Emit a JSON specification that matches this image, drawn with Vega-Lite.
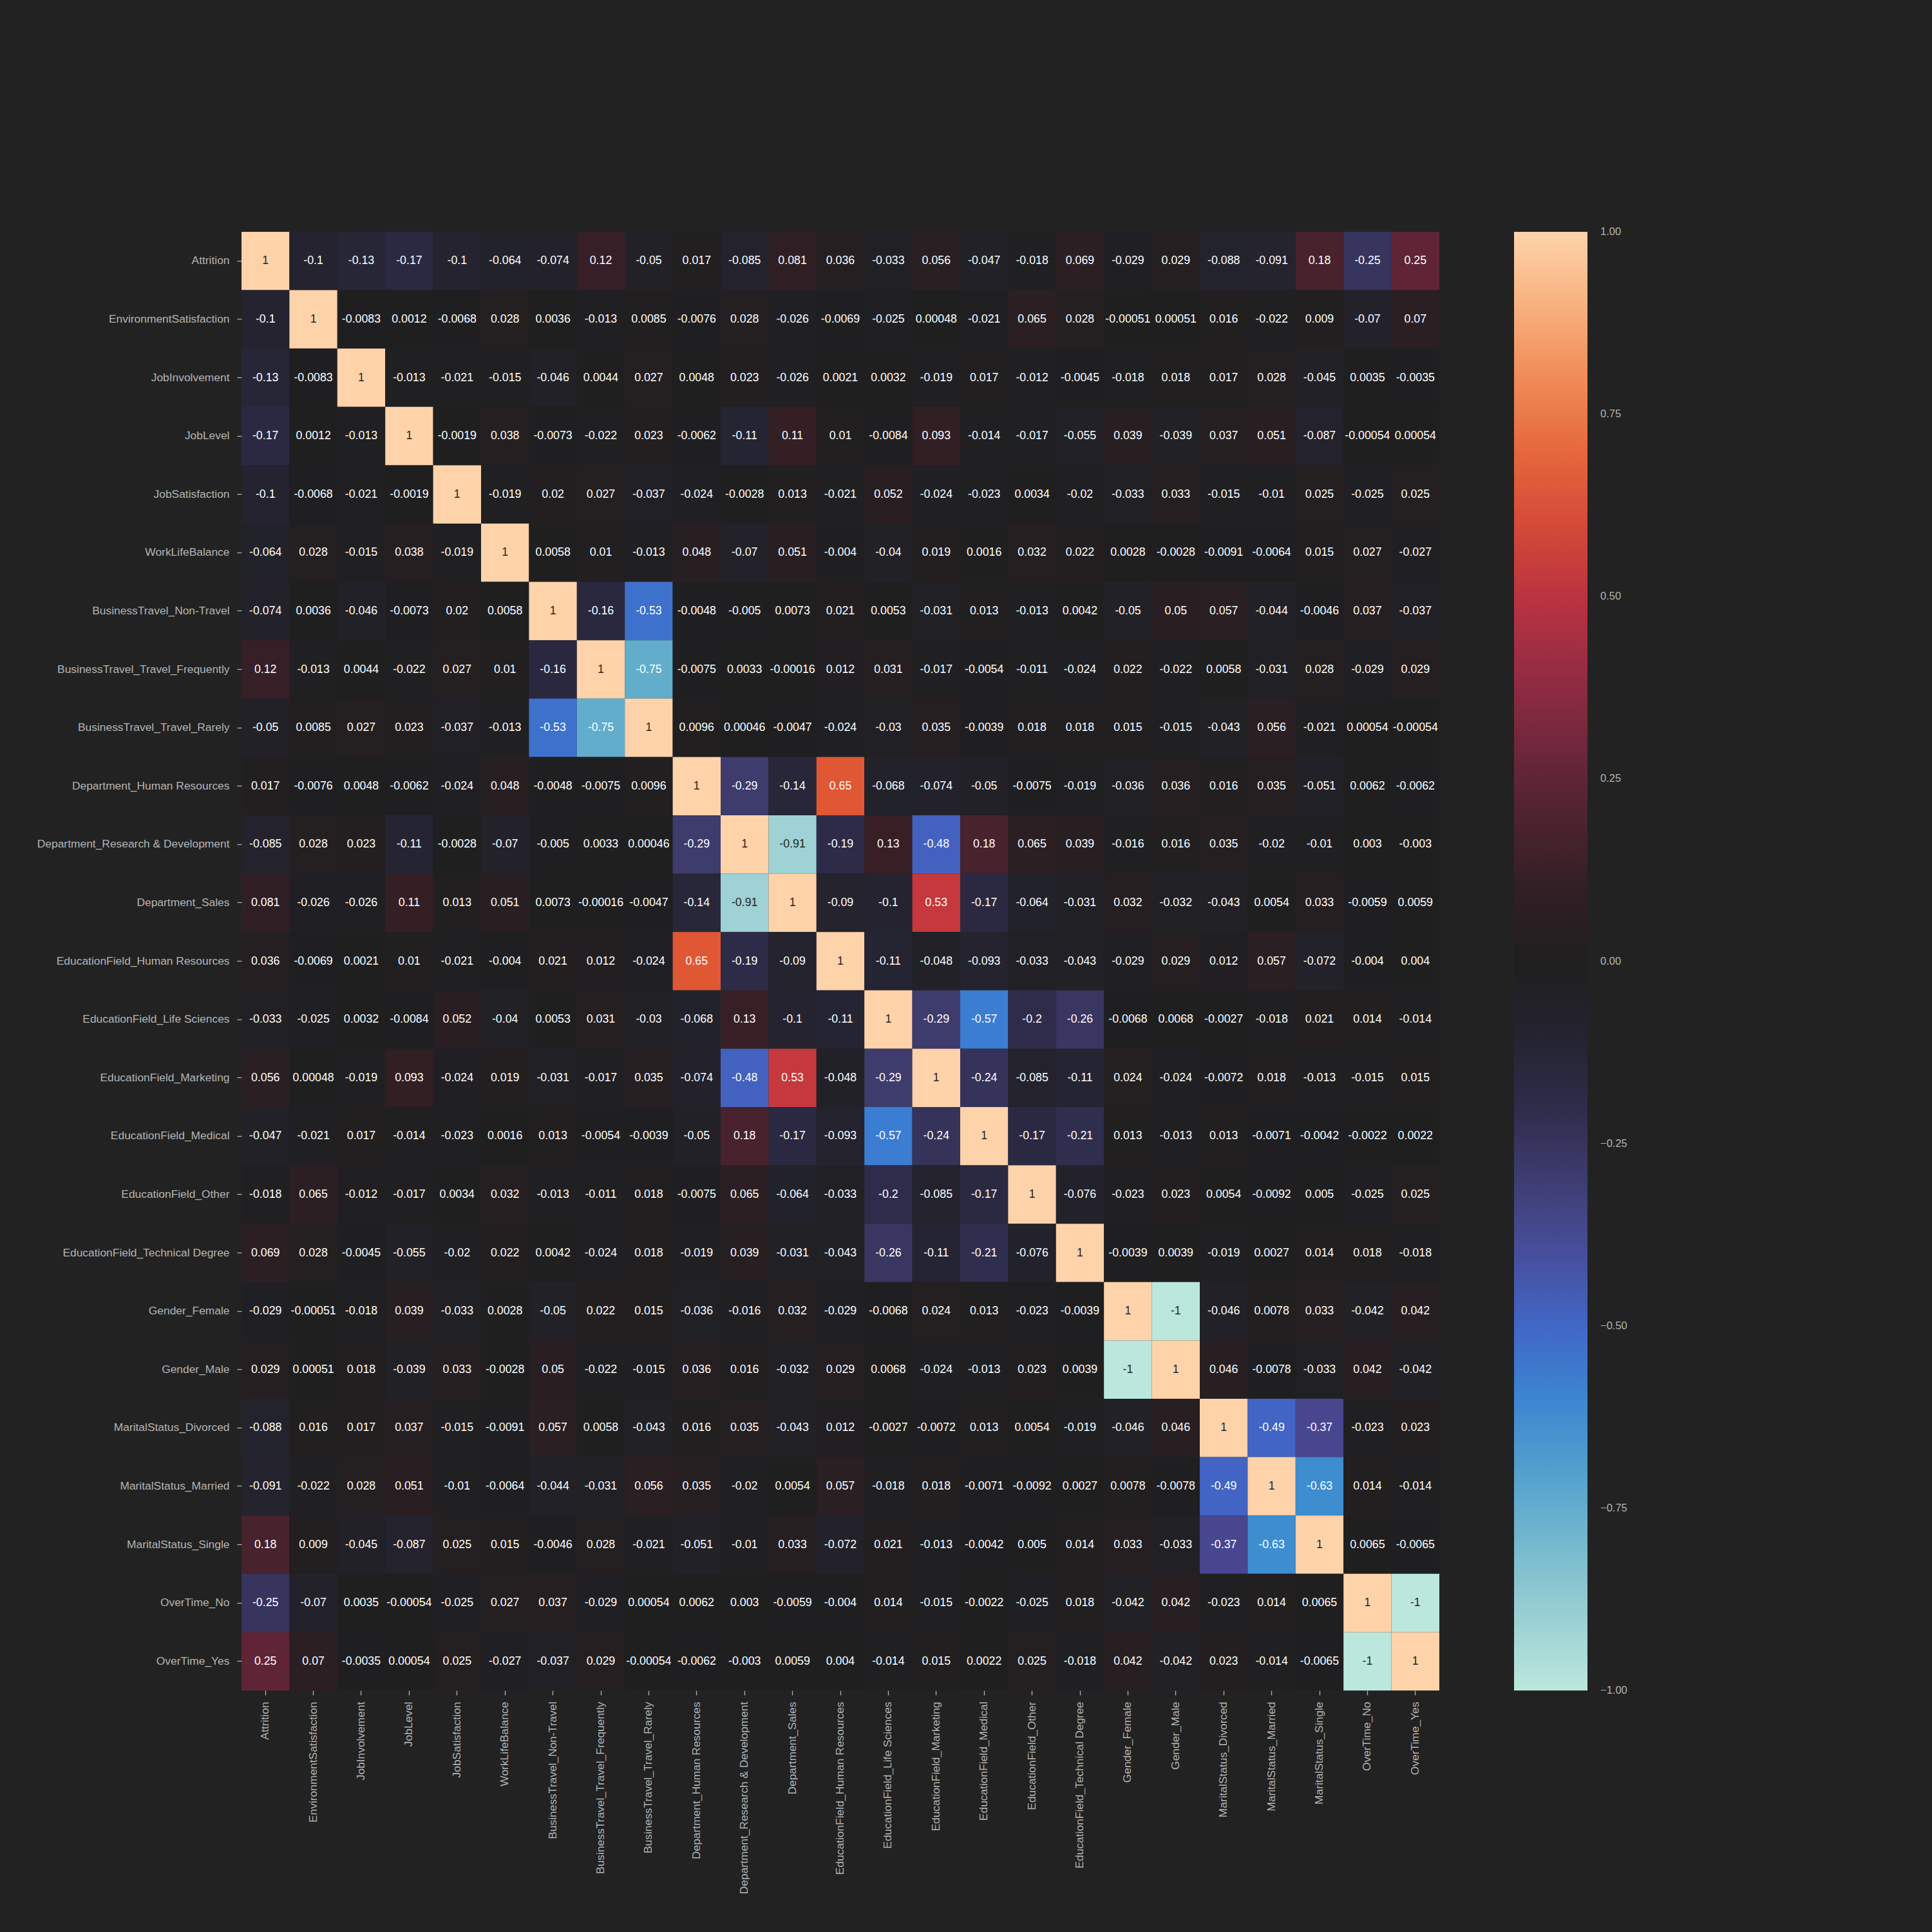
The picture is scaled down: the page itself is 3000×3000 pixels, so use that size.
{
"$schema": "https://vega.github.io/schema/vega-lite/v6.json",
"width": 1860, "height": 2265,
"autosize": {"type": "none"},
"padding": {"left": 375, "top": 360, "right": 765, "bottom": 375},
"background": "#222222",
"config": {"view": {"stroke": null}, "font": "Liberation Sans"},
"datasets": {"names": [
{"i":0,"name":"Attrition"},{"i":1,"name":"EnvironmentSatisfaction"},{"i":2,"name":"JobInvolvement"},{"i":3,"name":"JobLevel"},{"i":4,"name":"JobSatisfaction"},{"i":5,"name":"WorkLifeBalance"},{"i":6,"name":"BusinessTravel_Non-Travel"},{"i":7,"name":"BusinessTravel_Travel_Frequently"},{"i":8,"name":"BusinessTravel_Travel_Rarely"},{"i":9,"name":"Department_Human Resources"},{"i":10,"name":"Department_Research & Development"},{"i":11,"name":"Department_Sales"},{"i":12,"name":"EducationField_Human Resources"},{"i":13,"name":"EducationField_Life Sciences"},{"i":14,"name":"EducationField_Marketing"},{"i":15,"name":"EducationField_Medical"},{"i":16,"name":"EducationField_Other"},{"i":17,"name":"EducationField_Technical Degree"},{"i":18,"name":"Gender_Female"},{"i":19,"name":"Gender_Male"},{"i":20,"name":"MaritalStatus_Divorced"},{"i":21,"name":"MaritalStatus_Married"},{"i":22,"name":"MaritalStatus_Single"},{"i":23,"name":"OverTime_No"},{"i":24,"name":"OverTime_Yes"}
]},
"data": {"values": [
{"r":0,"c":0,"v":1},{"r":0,"c":1,"v":-0.1},{"r":0,"c":2,"v":-0.13},{"r":0,"c":3,"v":-0.17},{"r":0,"c":4,"v":-0.1},{"r":0,"c":5,"v":-0.064},{"r":0,"c":6,"v":-0.074},{"r":0,"c":7,"v":0.12},{"r":0,"c":8,"v":-0.05},{"r":0,"c":9,"v":0.017},{"r":0,"c":10,"v":-0.085},{"r":0,"c":11,"v":0.081},{"r":0,"c":12,"v":0.036},{"r":0,"c":13,"v":-0.033},{"r":0,"c":14,"v":0.056},{"r":0,"c":15,"v":-0.047},{"r":0,"c":16,"v":-0.018},{"r":0,"c":17,"v":0.069},{"r":0,"c":18,"v":-0.029},{"r":0,"c":19,"v":0.029},{"r":0,"c":20,"v":-0.088},{"r":0,"c":21,"v":-0.091},{"r":0,"c":22,"v":0.18},{"r":0,"c":23,"v":-0.25},{"r":0,"c":24,"v":0.25},
{"r":1,"c":0,"v":-0.1},{"r":1,"c":1,"v":1},{"r":1,"c":2,"v":-0.0083},{"r":1,"c":3,"v":0.0012},{"r":1,"c":4,"v":-0.0068},{"r":1,"c":5,"v":0.028},{"r":1,"c":6,"v":0.0036},{"r":1,"c":7,"v":-0.013},{"r":1,"c":8,"v":0.0085},{"r":1,"c":9,"v":-0.0076},{"r":1,"c":10,"v":0.028},{"r":1,"c":11,"v":-0.026},{"r":1,"c":12,"v":-0.0069},{"r":1,"c":13,"v":-0.025},{"r":1,"c":14,"v":0.00048},{"r":1,"c":15,"v":-0.021},{"r":1,"c":16,"v":0.065},{"r":1,"c":17,"v":0.028},{"r":1,"c":18,"v":-0.00051},{"r":1,"c":19,"v":0.00051},{"r":1,"c":20,"v":0.016},{"r":1,"c":21,"v":-0.022},{"r":1,"c":22,"v":0.009},{"r":1,"c":23,"v":-0.07},{"r":1,"c":24,"v":0.07},
{"r":2,"c":0,"v":-0.13},{"r":2,"c":1,"v":-0.0083},{"r":2,"c":2,"v":1},{"r":2,"c":3,"v":-0.013},{"r":2,"c":4,"v":-0.021},{"r":2,"c":5,"v":-0.015},{"r":2,"c":6,"v":-0.046},{"r":2,"c":7,"v":0.0044},{"r":2,"c":8,"v":0.027},{"r":2,"c":9,"v":0.0048},{"r":2,"c":10,"v":0.023},{"r":2,"c":11,"v":-0.026},{"r":2,"c":12,"v":0.0021},{"r":2,"c":13,"v":0.0032},{"r":2,"c":14,"v":-0.019},{"r":2,"c":15,"v":0.017},{"r":2,"c":16,"v":-0.012},{"r":2,"c":17,"v":-0.0045},{"r":2,"c":18,"v":-0.018},{"r":2,"c":19,"v":0.018},{"r":2,"c":20,"v":0.017},{"r":2,"c":21,"v":0.028},{"r":2,"c":22,"v":-0.045},{"r":2,"c":23,"v":0.0035},{"r":2,"c":24,"v":-0.0035},
{"r":3,"c":0,"v":-0.17},{"r":3,"c":1,"v":0.0012},{"r":3,"c":2,"v":-0.013},{"r":3,"c":3,"v":1},{"r":3,"c":4,"v":-0.0019},{"r":3,"c":5,"v":0.038},{"r":3,"c":6,"v":-0.0073},{"r":3,"c":7,"v":-0.022},{"r":3,"c":8,"v":0.023},{"r":3,"c":9,"v":-0.0062},{"r":3,"c":10,"v":-0.11},{"r":3,"c":11,"v":0.11},{"r":3,"c":12,"v":0.01},{"r":3,"c":13,"v":-0.0084},{"r":3,"c":14,"v":0.093},{"r":3,"c":15,"v":-0.014},{"r":3,"c":16,"v":-0.017},{"r":3,"c":17,"v":-0.055},{"r":3,"c":18,"v":0.039},{"r":3,"c":19,"v":-0.039},{"r":3,"c":20,"v":0.037},{"r":3,"c":21,"v":0.051},{"r":3,"c":22,"v":-0.087},{"r":3,"c":23,"v":-0.00054},{"r":3,"c":24,"v":0.00054},
{"r":4,"c":0,"v":-0.1},{"r":4,"c":1,"v":-0.0068},{"r":4,"c":2,"v":-0.021},{"r":4,"c":3,"v":-0.0019},{"r":4,"c":4,"v":1},{"r":4,"c":5,"v":-0.019},{"r":4,"c":6,"v":0.02},{"r":4,"c":7,"v":0.027},{"r":4,"c":8,"v":-0.037},{"r":4,"c":9,"v":-0.024},{"r":4,"c":10,"v":-0.0028},{"r":4,"c":11,"v":0.013},{"r":4,"c":12,"v":-0.021},{"r":4,"c":13,"v":0.052},{"r":4,"c":14,"v":-0.024},{"r":4,"c":15,"v":-0.023},{"r":4,"c":16,"v":0.0034},{"r":4,"c":17,"v":-0.02},{"r":4,"c":18,"v":-0.033},{"r":4,"c":19,"v":0.033},{"r":4,"c":20,"v":-0.015},{"r":4,"c":21,"v":-0.01},{"r":4,"c":22,"v":0.025},{"r":4,"c":23,"v":-0.025},{"r":4,"c":24,"v":0.025},
{"r":5,"c":0,"v":-0.064},{"r":5,"c":1,"v":0.028},{"r":5,"c":2,"v":-0.015},{"r":5,"c":3,"v":0.038},{"r":5,"c":4,"v":-0.019},{"r":5,"c":5,"v":1},{"r":5,"c":6,"v":0.0058},{"r":5,"c":7,"v":0.01},{"r":5,"c":8,"v":-0.013},{"r":5,"c":9,"v":0.048},{"r":5,"c":10,"v":-0.07},{"r":5,"c":11,"v":0.051},{"r":5,"c":12,"v":-0.004},{"r":5,"c":13,"v":-0.04},{"r":5,"c":14,"v":0.019},{"r":5,"c":15,"v":0.0016},{"r":5,"c":16,"v":0.032},{"r":5,"c":17,"v":0.022},{"r":5,"c":18,"v":0.0028},{"r":5,"c":19,"v":-0.0028},{"r":5,"c":20,"v":-0.0091},{"r":5,"c":21,"v":-0.0064},{"r":5,"c":22,"v":0.015},{"r":5,"c":23,"v":0.027},{"r":5,"c":24,"v":-0.027},
{"r":6,"c":0,"v":-0.074},{"r":6,"c":1,"v":0.0036},{"r":6,"c":2,"v":-0.046},{"r":6,"c":3,"v":-0.0073},{"r":6,"c":4,"v":0.02},{"r":6,"c":5,"v":0.0058},{"r":6,"c":6,"v":1},{"r":6,"c":7,"v":-0.16},{"r":6,"c":8,"v":-0.53},{"r":6,"c":9,"v":-0.0048},{"r":6,"c":10,"v":-0.005},{"r":6,"c":11,"v":0.0073},{"r":6,"c":12,"v":0.021},{"r":6,"c":13,"v":0.0053},{"r":6,"c":14,"v":-0.031},{"r":6,"c":15,"v":0.013},{"r":6,"c":16,"v":-0.013},{"r":6,"c":17,"v":0.0042},{"r":6,"c":18,"v":-0.05},{"r":6,"c":19,"v":0.05},{"r":6,"c":20,"v":0.057},{"r":6,"c":21,"v":-0.044},{"r":6,"c":22,"v":-0.0046},{"r":6,"c":23,"v":0.037},{"r":6,"c":24,"v":-0.037},
{"r":7,"c":0,"v":0.12},{"r":7,"c":1,"v":-0.013},{"r":7,"c":2,"v":0.0044},{"r":7,"c":3,"v":-0.022},{"r":7,"c":4,"v":0.027},{"r":7,"c":5,"v":0.01},{"r":7,"c":6,"v":-0.16},{"r":7,"c":7,"v":1},{"r":7,"c":8,"v":-0.75},{"r":7,"c":9,"v":-0.0075},{"r":7,"c":10,"v":0.0033},{"r":7,"c":11,"v":-0.00016},{"r":7,"c":12,"v":0.012},{"r":7,"c":13,"v":0.031},{"r":7,"c":14,"v":-0.017},{"r":7,"c":15,"v":-0.0054},{"r":7,"c":16,"v":-0.011},{"r":7,"c":17,"v":-0.024},{"r":7,"c":18,"v":0.022},{"r":7,"c":19,"v":-0.022},{"r":7,"c":20,"v":0.0058},{"r":7,"c":21,"v":-0.031},{"r":7,"c":22,"v":0.028},{"r":7,"c":23,"v":-0.029},{"r":7,"c":24,"v":0.029},
{"r":8,"c":0,"v":-0.05},{"r":8,"c":1,"v":0.0085},{"r":8,"c":2,"v":0.027},{"r":8,"c":3,"v":0.023},{"r":8,"c":4,"v":-0.037},{"r":8,"c":5,"v":-0.013},{"r":8,"c":6,"v":-0.53},{"r":8,"c":7,"v":-0.75},{"r":8,"c":8,"v":1},{"r":8,"c":9,"v":0.0096},{"r":8,"c":10,"v":0.00046},{"r":8,"c":11,"v":-0.0047},{"r":8,"c":12,"v":-0.024},{"r":8,"c":13,"v":-0.03},{"r":8,"c":14,"v":0.035},{"r":8,"c":15,"v":-0.0039},{"r":8,"c":16,"v":0.018},{"r":8,"c":17,"v":0.018},{"r":8,"c":18,"v":0.015},{"r":8,"c":19,"v":-0.015},{"r":8,"c":20,"v":-0.043},{"r":8,"c":21,"v":0.056},{"r":8,"c":22,"v":-0.021},{"r":8,"c":23,"v":0.00054},{"r":8,"c":24,"v":-0.00054},
{"r":9,"c":0,"v":0.017},{"r":9,"c":1,"v":-0.0076},{"r":9,"c":2,"v":0.0048},{"r":9,"c":3,"v":-0.0062},{"r":9,"c":4,"v":-0.024},{"r":9,"c":5,"v":0.048},{"r":9,"c":6,"v":-0.0048},{"r":9,"c":7,"v":-0.0075},{"r":9,"c":8,"v":0.0096},{"r":9,"c":9,"v":1},{"r":9,"c":10,"v":-0.29},{"r":9,"c":11,"v":-0.14},{"r":9,"c":12,"v":0.65},{"r":9,"c":13,"v":-0.068},{"r":9,"c":14,"v":-0.074},{"r":9,"c":15,"v":-0.05},{"r":9,"c":16,"v":-0.0075},{"r":9,"c":17,"v":-0.019},{"r":9,"c":18,"v":-0.036},{"r":9,"c":19,"v":0.036},{"r":9,"c":20,"v":0.016},{"r":9,"c":21,"v":0.035},{"r":9,"c":22,"v":-0.051},{"r":9,"c":23,"v":0.0062},{"r":9,"c":24,"v":-0.0062},
{"r":10,"c":0,"v":-0.085},{"r":10,"c":1,"v":0.028},{"r":10,"c":2,"v":0.023},{"r":10,"c":3,"v":-0.11},{"r":10,"c":4,"v":-0.0028},{"r":10,"c":5,"v":-0.07},{"r":10,"c":6,"v":-0.005},{"r":10,"c":7,"v":0.0033},{"r":10,"c":8,"v":0.00046},{"r":10,"c":9,"v":-0.29},{"r":10,"c":10,"v":1},{"r":10,"c":11,"v":-0.91},{"r":10,"c":12,"v":-0.19},{"r":10,"c":13,"v":0.13},{"r":10,"c":14,"v":-0.48},{"r":10,"c":15,"v":0.18},{"r":10,"c":16,"v":0.065},{"r":10,"c":17,"v":0.039},{"r":10,"c":18,"v":-0.016},{"r":10,"c":19,"v":0.016},{"r":10,"c":20,"v":0.035},{"r":10,"c":21,"v":-0.02},{"r":10,"c":22,"v":-0.01},{"r":10,"c":23,"v":0.003},{"r":10,"c":24,"v":-0.003},
{"r":11,"c":0,"v":0.081},{"r":11,"c":1,"v":-0.026},{"r":11,"c":2,"v":-0.026},{"r":11,"c":3,"v":0.11},{"r":11,"c":4,"v":0.013},{"r":11,"c":5,"v":0.051},{"r":11,"c":6,"v":0.0073},{"r":11,"c":7,"v":-0.00016},{"r":11,"c":8,"v":-0.0047},{"r":11,"c":9,"v":-0.14},{"r":11,"c":10,"v":-0.91},{"r":11,"c":11,"v":1},{"r":11,"c":12,"v":-0.09},{"r":11,"c":13,"v":-0.1},{"r":11,"c":14,"v":0.53},{"r":11,"c":15,"v":-0.17},{"r":11,"c":16,"v":-0.064},{"r":11,"c":17,"v":-0.031},{"r":11,"c":18,"v":0.032},{"r":11,"c":19,"v":-0.032},{"r":11,"c":20,"v":-0.043},{"r":11,"c":21,"v":0.0054},{"r":11,"c":22,"v":0.033},{"r":11,"c":23,"v":-0.0059},{"r":11,"c":24,"v":0.0059},
{"r":12,"c":0,"v":0.036},{"r":12,"c":1,"v":-0.0069},{"r":12,"c":2,"v":0.0021},{"r":12,"c":3,"v":0.01},{"r":12,"c":4,"v":-0.021},{"r":12,"c":5,"v":-0.004},{"r":12,"c":6,"v":0.021},{"r":12,"c":7,"v":0.012},{"r":12,"c":8,"v":-0.024},{"r":12,"c":9,"v":0.65},{"r":12,"c":10,"v":-0.19},{"r":12,"c":11,"v":-0.09},{"r":12,"c":12,"v":1},{"r":12,"c":13,"v":-0.11},{"r":12,"c":14,"v":-0.048},{"r":12,"c":15,"v":-0.093},{"r":12,"c":16,"v":-0.033},{"r":12,"c":17,"v":-0.043},{"r":12,"c":18,"v":-0.029},{"r":12,"c":19,"v":0.029},{"r":12,"c":20,"v":0.012},{"r":12,"c":21,"v":0.057},{"r":12,"c":22,"v":-0.072},{"r":12,"c":23,"v":-0.004},{"r":12,"c":24,"v":0.004},
{"r":13,"c":0,"v":-0.033},{"r":13,"c":1,"v":-0.025},{"r":13,"c":2,"v":0.0032},{"r":13,"c":3,"v":-0.0084},{"r":13,"c":4,"v":0.052},{"r":13,"c":5,"v":-0.04},{"r":13,"c":6,"v":0.0053},{"r":13,"c":7,"v":0.031},{"r":13,"c":8,"v":-0.03},{"r":13,"c":9,"v":-0.068},{"r":13,"c":10,"v":0.13},{"r":13,"c":11,"v":-0.1},{"r":13,"c":12,"v":-0.11},{"r":13,"c":13,"v":1},{"r":13,"c":14,"v":-0.29},{"r":13,"c":15,"v":-0.57},{"r":13,"c":16,"v":-0.2},{"r":13,"c":17,"v":-0.26},{"r":13,"c":18,"v":-0.0068},{"r":13,"c":19,"v":0.0068},{"r":13,"c":20,"v":-0.0027},{"r":13,"c":21,"v":-0.018},{"r":13,"c":22,"v":0.021},{"r":13,"c":23,"v":0.014},{"r":13,"c":24,"v":-0.014},
{"r":14,"c":0,"v":0.056},{"r":14,"c":1,"v":0.00048},{"r":14,"c":2,"v":-0.019},{"r":14,"c":3,"v":0.093},{"r":14,"c":4,"v":-0.024},{"r":14,"c":5,"v":0.019},{"r":14,"c":6,"v":-0.031},{"r":14,"c":7,"v":-0.017},{"r":14,"c":8,"v":0.035},{"r":14,"c":9,"v":-0.074},{"r":14,"c":10,"v":-0.48},{"r":14,"c":11,"v":0.53},{"r":14,"c":12,"v":-0.048},{"r":14,"c":13,"v":-0.29},{"r":14,"c":14,"v":1},{"r":14,"c":15,"v":-0.24},{"r":14,"c":16,"v":-0.085},{"r":14,"c":17,"v":-0.11},{"r":14,"c":18,"v":0.024},{"r":14,"c":19,"v":-0.024},{"r":14,"c":20,"v":-0.0072},{"r":14,"c":21,"v":0.018},{"r":14,"c":22,"v":-0.013},{"r":14,"c":23,"v":-0.015},{"r":14,"c":24,"v":0.015},
{"r":15,"c":0,"v":-0.047},{"r":15,"c":1,"v":-0.021},{"r":15,"c":2,"v":0.017},{"r":15,"c":3,"v":-0.014},{"r":15,"c":4,"v":-0.023},{"r":15,"c":5,"v":0.0016},{"r":15,"c":6,"v":0.013},{"r":15,"c":7,"v":-0.0054},{"r":15,"c":8,"v":-0.0039},{"r":15,"c":9,"v":-0.05},{"r":15,"c":10,"v":0.18},{"r":15,"c":11,"v":-0.17},{"r":15,"c":12,"v":-0.093},{"r":15,"c":13,"v":-0.57},{"r":15,"c":14,"v":-0.24},{"r":15,"c":15,"v":1},{"r":15,"c":16,"v":-0.17},{"r":15,"c":17,"v":-0.21},{"r":15,"c":18,"v":0.013},{"r":15,"c":19,"v":-0.013},{"r":15,"c":20,"v":0.013},{"r":15,"c":21,"v":-0.0071},{"r":15,"c":22,"v":-0.0042},{"r":15,"c":23,"v":-0.0022},{"r":15,"c":24,"v":0.0022},
{"r":16,"c":0,"v":-0.018},{"r":16,"c":1,"v":0.065},{"r":16,"c":2,"v":-0.012},{"r":16,"c":3,"v":-0.017},{"r":16,"c":4,"v":0.0034},{"r":16,"c":5,"v":0.032},{"r":16,"c":6,"v":-0.013},{"r":16,"c":7,"v":-0.011},{"r":16,"c":8,"v":0.018},{"r":16,"c":9,"v":-0.0075},{"r":16,"c":10,"v":0.065},{"r":16,"c":11,"v":-0.064},{"r":16,"c":12,"v":-0.033},{"r":16,"c":13,"v":-0.2},{"r":16,"c":14,"v":-0.085},{"r":16,"c":15,"v":-0.17},{"r":16,"c":16,"v":1},{"r":16,"c":17,"v":-0.076},{"r":16,"c":18,"v":-0.023},{"r":16,"c":19,"v":0.023},{"r":16,"c":20,"v":0.0054},{"r":16,"c":21,"v":-0.0092},{"r":16,"c":22,"v":0.005},{"r":16,"c":23,"v":-0.025},{"r":16,"c":24,"v":0.025},
{"r":17,"c":0,"v":0.069},{"r":17,"c":1,"v":0.028},{"r":17,"c":2,"v":-0.0045},{"r":17,"c":3,"v":-0.055},{"r":17,"c":4,"v":-0.02},{"r":17,"c":5,"v":0.022},{"r":17,"c":6,"v":0.0042},{"r":17,"c":7,"v":-0.024},{"r":17,"c":8,"v":0.018},{"r":17,"c":9,"v":-0.019},{"r":17,"c":10,"v":0.039},{"r":17,"c":11,"v":-0.031},{"r":17,"c":12,"v":-0.043},{"r":17,"c":13,"v":-0.26},{"r":17,"c":14,"v":-0.11},{"r":17,"c":15,"v":-0.21},{"r":17,"c":16,"v":-0.076},{"r":17,"c":17,"v":1},{"r":17,"c":18,"v":-0.0039},{"r":17,"c":19,"v":0.0039},{"r":17,"c":20,"v":-0.019},{"r":17,"c":21,"v":0.0027},{"r":17,"c":22,"v":0.014},{"r":17,"c":23,"v":0.018},{"r":17,"c":24,"v":-0.018},
{"r":18,"c":0,"v":-0.029},{"r":18,"c":1,"v":-0.00051},{"r":18,"c":2,"v":-0.018},{"r":18,"c":3,"v":0.039},{"r":18,"c":4,"v":-0.033},{"r":18,"c":5,"v":0.0028},{"r":18,"c":6,"v":-0.05},{"r":18,"c":7,"v":0.022},{"r":18,"c":8,"v":0.015},{"r":18,"c":9,"v":-0.036},{"r":18,"c":10,"v":-0.016},{"r":18,"c":11,"v":0.032},{"r":18,"c":12,"v":-0.029},{"r":18,"c":13,"v":-0.0068},{"r":18,"c":14,"v":0.024},{"r":18,"c":15,"v":0.013},{"r":18,"c":16,"v":-0.023},{"r":18,"c":17,"v":-0.0039},{"r":18,"c":18,"v":1},{"r":18,"c":19,"v":-1},{"r":18,"c":20,"v":-0.046},{"r":18,"c":21,"v":0.0078},{"r":18,"c":22,"v":0.033},{"r":18,"c":23,"v":-0.042},{"r":18,"c":24,"v":0.042},
{"r":19,"c":0,"v":0.029},{"r":19,"c":1,"v":0.00051},{"r":19,"c":2,"v":0.018},{"r":19,"c":3,"v":-0.039},{"r":19,"c":4,"v":0.033},{"r":19,"c":5,"v":-0.0028},{"r":19,"c":6,"v":0.05},{"r":19,"c":7,"v":-0.022},{"r":19,"c":8,"v":-0.015},{"r":19,"c":9,"v":0.036},{"r":19,"c":10,"v":0.016},{"r":19,"c":11,"v":-0.032},{"r":19,"c":12,"v":0.029},{"r":19,"c":13,"v":0.0068},{"r":19,"c":14,"v":-0.024},{"r":19,"c":15,"v":-0.013},{"r":19,"c":16,"v":0.023},{"r":19,"c":17,"v":0.0039},{"r":19,"c":18,"v":-1},{"r":19,"c":19,"v":1},{"r":19,"c":20,"v":0.046},{"r":19,"c":21,"v":-0.0078},{"r":19,"c":22,"v":-0.033},{"r":19,"c":23,"v":0.042},{"r":19,"c":24,"v":-0.042},
{"r":20,"c":0,"v":-0.088},{"r":20,"c":1,"v":0.016},{"r":20,"c":2,"v":0.017},{"r":20,"c":3,"v":0.037},{"r":20,"c":4,"v":-0.015},{"r":20,"c":5,"v":-0.0091},{"r":20,"c":6,"v":0.057},{"r":20,"c":7,"v":0.0058},{"r":20,"c":8,"v":-0.043},{"r":20,"c":9,"v":0.016},{"r":20,"c":10,"v":0.035},{"r":20,"c":11,"v":-0.043},{"r":20,"c":12,"v":0.012},{"r":20,"c":13,"v":-0.0027},{"r":20,"c":14,"v":-0.0072},{"r":20,"c":15,"v":0.013},{"r":20,"c":16,"v":0.0054},{"r":20,"c":17,"v":-0.019},{"r":20,"c":18,"v":-0.046},{"r":20,"c":19,"v":0.046},{"r":20,"c":20,"v":1},{"r":20,"c":21,"v":-0.49},{"r":20,"c":22,"v":-0.37},{"r":20,"c":23,"v":-0.023},{"r":20,"c":24,"v":0.023},
{"r":21,"c":0,"v":-0.091},{"r":21,"c":1,"v":-0.022},{"r":21,"c":2,"v":0.028},{"r":21,"c":3,"v":0.051},{"r":21,"c":4,"v":-0.01},{"r":21,"c":5,"v":-0.0064},{"r":21,"c":6,"v":-0.044},{"r":21,"c":7,"v":-0.031},{"r":21,"c":8,"v":0.056},{"r":21,"c":9,"v":0.035},{"r":21,"c":10,"v":-0.02},{"r":21,"c":11,"v":0.0054},{"r":21,"c":12,"v":0.057},{"r":21,"c":13,"v":-0.018},{"r":21,"c":14,"v":0.018},{"r":21,"c":15,"v":-0.0071},{"r":21,"c":16,"v":-0.0092},{"r":21,"c":17,"v":0.0027},{"r":21,"c":18,"v":0.0078},{"r":21,"c":19,"v":-0.0078},{"r":21,"c":20,"v":-0.49},{"r":21,"c":21,"v":1},{"r":21,"c":22,"v":-0.63},{"r":21,"c":23,"v":0.014},{"r":21,"c":24,"v":-0.014},
{"r":22,"c":0,"v":0.18},{"r":22,"c":1,"v":0.009},{"r":22,"c":2,"v":-0.045},{"r":22,"c":3,"v":-0.087},{"r":22,"c":4,"v":0.025},{"r":22,"c":5,"v":0.015},{"r":22,"c":6,"v":-0.0046},{"r":22,"c":7,"v":0.028},{"r":22,"c":8,"v":-0.021},{"r":22,"c":9,"v":-0.051},{"r":22,"c":10,"v":-0.01},{"r":22,"c":11,"v":0.033},{"r":22,"c":12,"v":-0.072},{"r":22,"c":13,"v":0.021},{"r":22,"c":14,"v":-0.013},{"r":22,"c":15,"v":-0.0042},{"r":22,"c":16,"v":0.005},{"r":22,"c":17,"v":0.014},{"r":22,"c":18,"v":0.033},{"r":22,"c":19,"v":-0.033},{"r":22,"c":20,"v":-0.37},{"r":22,"c":21,"v":-0.63},{"r":22,"c":22,"v":1},{"r":22,"c":23,"v":0.0065},{"r":22,"c":24,"v":-0.0065},
{"r":23,"c":0,"v":-0.25},{"r":23,"c":1,"v":-0.07},{"r":23,"c":2,"v":0.0035},{"r":23,"c":3,"v":-0.00054},{"r":23,"c":4,"v":-0.025},{"r":23,"c":5,"v":0.027},{"r":23,"c":6,"v":0.037},{"r":23,"c":7,"v":-0.029},{"r":23,"c":8,"v":0.00054},{"r":23,"c":9,"v":0.0062},{"r":23,"c":10,"v":0.003},{"r":23,"c":11,"v":-0.0059},{"r":23,"c":12,"v":-0.004},{"r":23,"c":13,"v":0.014},{"r":23,"c":14,"v":-0.015},{"r":23,"c":15,"v":-0.0022},{"r":23,"c":16,"v":-0.025},{"r":23,"c":17,"v":0.018},{"r":23,"c":18,"v":-0.042},{"r":23,"c":19,"v":0.042},{"r":23,"c":20,"v":-0.023},{"r":23,"c":21,"v":0.014},{"r":23,"c":22,"v":0.0065},{"r":23,"c":23,"v":1},{"r":23,"c":24,"v":-1},
{"r":24,"c":0,"v":0.25},{"r":24,"c":1,"v":0.07},{"r":24,"c":2,"v":-0.0035},{"r":24,"c":3,"v":0.00054},{"r":24,"c":4,"v":0.025},{"r":24,"c":5,"v":-0.027},{"r":24,"c":6,"v":-0.037},{"r":24,"c":7,"v":0.029},{"r":24,"c":8,"v":-0.00054},{"r":24,"c":9,"v":-0.0062},{"r":24,"c":10,"v":-0.003},{"r":24,"c":11,"v":0.0059},{"r":24,"c":12,"v":0.004},{"r":24,"c":13,"v":-0.014},{"r":24,"c":14,"v":0.015},{"r":24,"c":15,"v":0.0022},{"r":24,"c":16,"v":0.025},{"r":24,"c":17,"v":-0.018},{"r":24,"c":18,"v":0.042},{"r":24,"c":19,"v":-0.042},{"r":24,"c":20,"v":0.023},{"r":24,"c":21,"v":-0.014},{"r":24,"c":22,"v":-0.0065},{"r":24,"c":23,"v":-1},{"r":24,"c":24,"v":1}
]},
"transform": [
{"lookup": "r", "from": {"data": {"name": "names"}, "key": "i", "fields": ["name"]}, "as": ["row"]},
{"lookup": "c", "from": {"data": {"name": "names"}, "key": "i", "fields": ["name"]}, "as": ["col"]}
],
"encoding": {
"x": {"field": "col", "type": "nominal", "sort": {"field": "c", "op": "min"}, "scale": {"paddingInner": 0, "paddingOuter": 0},
 "axis": {"title": null, "domain": false, "labelAngle": -90, "labelFontSize": 17.4, "labelColor": "#b4b4b4", "labelPadding": 10, "labelLimit": 1000, "tickSize": 7, "tickColor": "#b4b4b4", "tickWidth": 1.3, "grid": false}},
"y": {"field": "row", "type": "nominal", "sort": {"field": "r", "op": "min"}, "scale": {"paddingInner": 0, "paddingOuter": 0},
 "axis": {"title": null, "domain": false, "labelFontSize": 17.4, "labelColor": "#b4b4b4", "labelPadding": 12, "labelLimit": 1000, "tickSize": 7, "tickColor": "#b4b4b4", "tickWidth": 1.3, "grid": false}}
},
"layer": [
{"mark": {"type": "rect", "strokeWidth": 0},
 "encoding": {"color": {"field": "v", "type": "quantitative",
  "scale": {"type": "linear", "interpolate": "rgb",
   "domain": [-1, -0.91, -0.75, -0.63, -0.57, -0.49, -0.37, -0.29, -0.2, -0.1, 0, 0.13, 0.25, 0.375, 0.5, 0.53, 0.65, 0.75, 0.875, 1],
   "range": ["#bce7dc", "#9ed2d4", "#62adcb", "#3e8dcf", "#3a7dd2", "#4264c4", "#48468f", "#3e3b6d", "#2e2c4a", "#24232f", "#1f1f20", "#381f26", "#5f2536", "#8e2a44", "#bb3340", "#c4383e", "#e05734", "#ec7a45", "#f6a874", "#fed3aa"]},
  "legend": {"orient": "none", "legendX": 1976, "legendY": 0, "direction": "vertical", "gradientLength": 2265, "gradientThickness": 114, "gradientStrokeWidth": 0, "values": [-1, -0.75, -0.5, -0.25, 0, 0.25, 0.5, 0.75, 1], "format": ".2f", "labelFontSize": 16.5, "labelColor": "#b4b4b4", "labelOffset": 20, "labelBaseline": "middle", "labelOverlap": false, "title": null,
   "encode": {"labels": {"update": {"baseline": {"value": "middle"}}}}}}}},
{"mark": {"type": "text", "fontSize": 17.8},
 "encoding": {"text": {"field": "v", "type": "nominal"},
  "color": {"condition": {"test": "abs(datum.v) > 0.8", "value": "#262626"}, "value": "#ffffff"}}}
]
}
